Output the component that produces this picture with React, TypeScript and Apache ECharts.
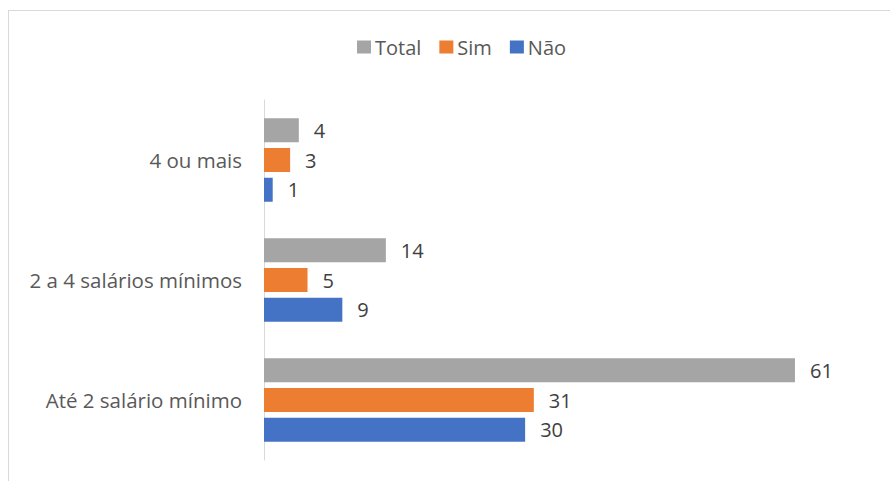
import React, { useEffect, useRef } from "react";
import * as echarts from "echarts";

const categories = ["Até 2 salário mínimo", "2 a 4 salários mínimos", "4 ou mais"];
const totalValues = [61, 14, 4];
const simValues = [31, 5, 3];
const naoValues = [30, 9, 1];
const legendNames = ["Total", "Sim", "Não"];

const FONT = "'Open Sans', 'Noto Sans', sans-serif";

export default function App() {
  const ref = useRef<HTMLDivElement>(null);
  useEffect(() => {
    if (!ref.current) return;
    const chart = echarts.init(ref.current, null, { renderer: "svg" });
    const label = {
      show: true,
      position: "right" as const,
      distance: 15,
      color: "#404040",
      fontSize: 20,
      fontFamily: FONT,
    };
    chart.setOption({
      animation: false,
      backgroundColor: "#ffffff",
      textStyle: { fontFamily: FONT },
      legend: {
        data: legendNames,
        left: 352,
        top: 31,
        icon: "rect",
        itemWidth: 14,
        itemHeight: 13,
        itemGap: 18,
        textStyle: { color: "#595959", fontSize: 20, fontFamily: FONT, padding: [0, 0, 0, -1], lineHeight: 22 },
      },
      grid: { left: 264, top: 100, bottom: 21, right: 16.7, containLabel: false },
      xAxis: {
        type: "value",
        min: 0,
        max: 70,
        show: false,
      },
      yAxis: {
        type: "category",
        data: categories,
        axisLine: { show: true, lineStyle: { color: "#D9D9D9", width: 1 } },
        axisTick: { show: false },
        axisLabel: { color: "#595959", fontSize: 20.5, fontFamily: FONT, margin: 22 },
      },
      series: [
        { name: "Total", type: "bar", data: totalValues, barWidth: 24, barGap: "24%", itemStyle: { color: "#A5A5A5" }, label },
        { name: "Sim", type: "bar", data: simValues, barWidth: 24, barGap: "24%", itemStyle: { color: "#ED7D31" }, label },
        { name: "Não", type: "bar", data: naoValues, barWidth: 24, barGap: "24%", itemStyle: { color: "#4472C4" }, label },
      ],
      graphic: [
        { type: "line", shape: { x1: 8, y1: 10.5, x2: 890, y2: 10.5 }, style: { stroke: "#D9D9D9", lineWidth: 1 } },
        { type: "line", shape: { x1: 8.5, y1: 10, x2: 8.5, y2: 481 }, style: { stroke: "#D9D9D9", lineWidth: 1 } },
      ],
    });
    return () => chart.dispose();
  }, []);
  return <div ref={ref} style={{ position: "fixed", left: 0, top: 0, width: 890, height: 481 }} />;
}
